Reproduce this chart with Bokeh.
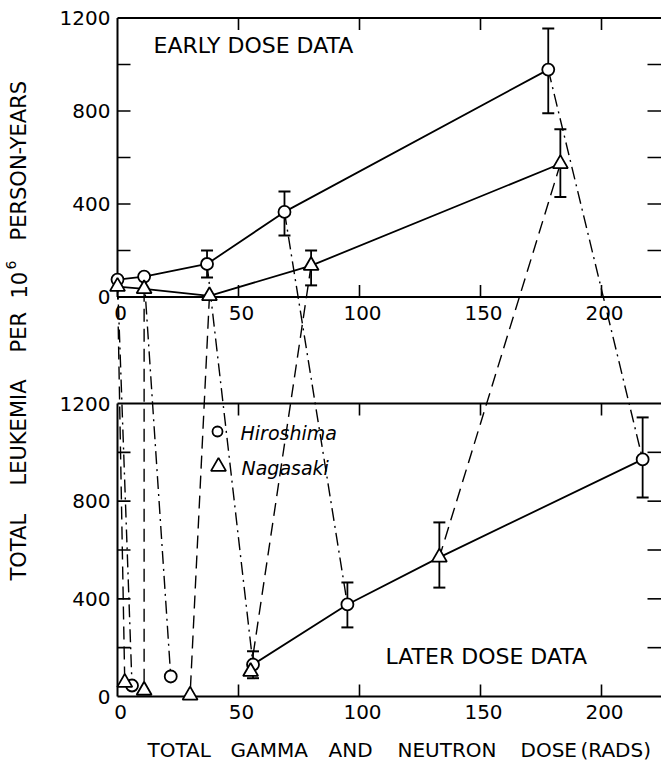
import math
from bokeh.plotting import figure
from bokeh.models import Range1d
from bokeh.core.properties import value
from bokeh.embed import file_html
from bokeh.resources import INLINE

# ---------------- data ----------------
x_ticks = [0, 50, 100, 150, 200]
y_major = [0, 400, 800, 1200]
y_minor = [200, 600, 1000]

# Early dose data (top panel)
early_h_dose = [0, 11, 37, 69, 178]
early_h_rate = [75, 88, 142, 366, 978]
early_n_dose = [0, 11, 38, 80, 183]
early_n_rate = [45, 35, 5, 135, 573]
early_err_dose = [37, 69, 178, 80, 183]
early_err_lo = [84, 264, 790, 50, 430]
early_err_hi = [200, 454, 1155, 200, 722]

# Later dose data (bottom panel)
later_h_dose = [6, 22, 56, 95, 217]
later_h_rate = [45, 82, 131, 377, 971]
later_n_dose = [3, 11, 30, 55, 133]
later_n_rate = [57, 25, 5, 102, 570]
later_err_dose = [56, 95, 217, 133]
later_err_lo = [75, 283, 815, 446]
later_err_hi = [185, 467, 1143, 713]

# ---------------- layout (picture pixels) ----------------
W, H = 661, 764
PX_L, PX_T = 0, 0
PX_R, PX_B = PX_L + W, PX_T + H

def val_at(px, va, pa, vb, pb):
    return va + (px - pa) * (vb - va) / (pb - pa)

# x calibration: dose 0 at 117 px, dose 200 at 601 px
X0_PX, X200_PX = 117, 601
# bottom panel: 0 at 696, 1200 at 403 ; top panel: 0 at 296.5, 1200 at 17.5
BOT0, BOT1200 = 696, 403
TOP0, TOP1200 = 296.5, 17.5

x_rng = Range1d(val_at(PX_L, 0, X0_PX, 200, X200_PX), val_at(PX_R, 0, X0_PX, 200, X200_PX))
bot_rng = Range1d(val_at(PX_B, 0, BOT0, 1200, BOT1200), val_at(PX_T, 0, BOT0, 1200, BOT1200))
top_rng = Range1d(val_at(PX_B, 0, TOP0, 1200, TOP1200), val_at(PX_T, 0, TOP0, 1200, TOP1200))

p = figure(width=W, height=H, x_range=x_rng, y_range=bot_rng,
           output_backend="svg", toolbar_location=None, min_border=0,
           x_axis_type=None, y_axis_type=None)
p.extra_y_ranges = {"top": top_rng, "page": Range1d(PX_B, PX_T)}
p.extra_x_ranges = {"page": Range1d(PX_L, PX_R)}
p.outline_line_color = None
p.background_fill_color = "white"
p.border_fill_color = "white"

FONT = value("DejaVu Sans")
K = "black"

def top_to_bot(v):
    f = (v - top_rng.start) / (top_rng.end - top_rng.start)
    return bot_rng.start + f * (bot_rng.end - bot_rng.start)

# ---------------- connecting lines between panels ----------------
p.multi_line(xs=[[a, b] for a, b in zip(early_h_dose, later_h_dose)],
             ys=[[top_to_bot(a), b] for a, b in zip(early_h_rate, later_h_rate)],
             line_color=K, line_width=1.4, line_dash="13 5 2 5")
p.multi_line(xs=[[a, b] for a, b in zip(early_n_dose, later_n_dose)],
             ys=[[top_to_bot(a), b] for a, b in zip(early_n_rate, later_n_rate)],
             line_color=K, line_width=1.4, line_dash="13 7")

# ---------------- frames, ticks ----------------
AXW = 2
for ypx in (TOP0, TOP1200, BOT0, BOT1200):
    p.segment(x0=[0], x1=[x_rng.end], y0=[ypx], y1=[ypx], y_range_name="page",
              line_color=K, line_width=AXW)
p.segment(x0=[0, 0], x1=[0, 0], y0=[TOP0, BOT0], y1=[TOP1200, BOT1200],
          y_range_name="page", line_color=K, line_width=AXW)

TL = 12
xt = x_ticks[1:]
for base, d in ((TOP0, -1), (TOP1200, 1), (BOT0, -1), (BOT1200, 1)):
    p.segment(x0=xt, x1=xt, y0=[base] * len(xt), y1=[base + d * TL] * len(xt),
              y_range_name="page", line_color=K, line_width=1.6)

yt_all = sorted(y_major[1:-1] + y_minor)
for rname in ("top", "default"):
    p.segment(x0=[X0_PX] * len(yt_all), x1=[X0_PX + 13] * len(yt_all), y0=yt_all, y1=yt_all,
              x_range_name="page", y_range_name=rname, line_color=K, line_width=1.6)
    p.segment(x0=[PX_R - 14] * len(yt_all), x1=[PX_R] * len(yt_all), y0=yt_all, y1=yt_all,
              x_range_name="page", y_range_name=rname, line_color=K, line_width=1.6)

# tick labels
TFS = "20px"
for rname in ("top", "default"):
    p.text(x=[110] * len(y_major), y=y_major, text=[str(v) for v in y_major],
           x_range_name="page", y_range_name=rname, text_font=FONT, text_font_size=TFS,
           text_align="right", text_baseline="middle", text_color=K)
for ypx in (312, 711):
    p.text(x=x_ticks, y=[ypx] * len(x_ticks), text=[str(v) for v in x_ticks],
           y_range_name="page", x_offset=3, text_font=FONT, text_font_size=TFS,
           text_align="center", text_baseline="middle", text_color=K)

# ---------------- data lines, error bars, markers ----------------
LW = 1.8
p.line(early_h_dose, early_h_rate, y_range_name="top", line_color=K, line_width=LW)
p.line(early_n_dose, early_n_rate, y_range_name="top", line_color=K, line_width=LW)
later_line = sorted([(d, r) for d, r in zip(later_h_dose, later_h_rate) if d > 50] +
                    [(d, r) for d, r in zip(later_n_dose, later_n_rate) if d > 100])
p.line([d for d, _ in later_line], [r for _, r in later_line], line_color=K, line_width=LW)

for dose, lo, hi, rname in ((early_err_dose, early_err_lo, early_err_hi, "top"),
                            (later_err_dose, later_err_lo, later_err_hi, "default")):
    p.segment(x0=dose, x1=dose, y0=lo, y1=hi, y_range_name=rname, line_color=K, line_width=1.8)
    p.scatter(x=dose + dose, y=lo + hi, marker="dash", size=12, y_range_name=rname,
              line_color=K, line_width=2)

for dose, rate, rname in ((early_h_dose, early_h_rate, "top"), (later_h_dose, later_h_rate, "default")):
    p.scatter(dose, rate, marker="circle", size=12, y_range_name=rname,
              fill_color="white", line_color=K, line_width=1.8)
for dose, rate, rname in ((early_n_dose, early_n_rate, "top"), (later_n_dose, later_n_rate, "default")):
    p.scatter(dose, rate, marker="triangle", size=15, y_range_name=rname,
              fill_color="white", line_color=K, line_width=1.8)

# ---------------- legend ----------------
p.scatter([217], [431], marker="circle", size=10, x_range_name="page", y_range_name="page",
          fill_color="white", line_color=K, line_width=1.8)
p.scatter([218], [466], marker="triangle", size=15, x_range_name="page", y_range_name="page",
          fill_color="white", line_color=K, line_width=1.8)
p.text(x=[240, 241], y=[432, 467], text=["Hiroshima", "Nagasaki"],
       x_range_name="page", y_range_name="page", text_font=FONT, text_font_size="19px",
       text_font_style="italic", text_align="left", text_baseline="middle", text_color=K)

# ---------------- panel labels ----------------
p.text(x=[153, 385], y=[45, 656], text=["EARLY DOSE DATA", "LATER DOSE DATA"],
       x_range_name="page", y_range_name="page", text_font=FONT, text_font_size="22px",
       text_align="left", text_baseline="middle", text_color=K)

# ---------------- axis titles ----------------
xt_words = ["TOTAL", "GAMMA", "AND", "NEUTRON", "DOSE", "(RADS)"]
xt_pos = [147, 230, 328, 397, 520, 580]
p.text(x=xt_pos, y=[749] * len(xt_words), text=xt_words,
       x_range_name="page", y_range_name="page", text_font=FONT, text_font_size="20px",
       text_align="left", text_baseline="middle", text_color=K)

yt_words = ["TOTAL", "LEUKEMIA", "PER", "10", "PERSON-YEARS"]
yt_pos = [580, 485, 352, 298, 240]
p.text(x=[18] * len(yt_words), y=yt_pos, text=yt_words, angle=math.pi / 2,
       x_range_name="page", y_range_name="page", text_font=FONT, text_font_size="21px",
       text_align="left", text_baseline="middle", text_color=K)
p.text(x=[10], y=[269], text=["6"], angle=math.pi / 2,
       x_range_name="page", y_range_name="page", text_font=FONT, text_font_size="14px",
       text_align="left", text_baseline="middle", text_color=K)

open("out.html", "w").write(file_html(p, INLINE))
